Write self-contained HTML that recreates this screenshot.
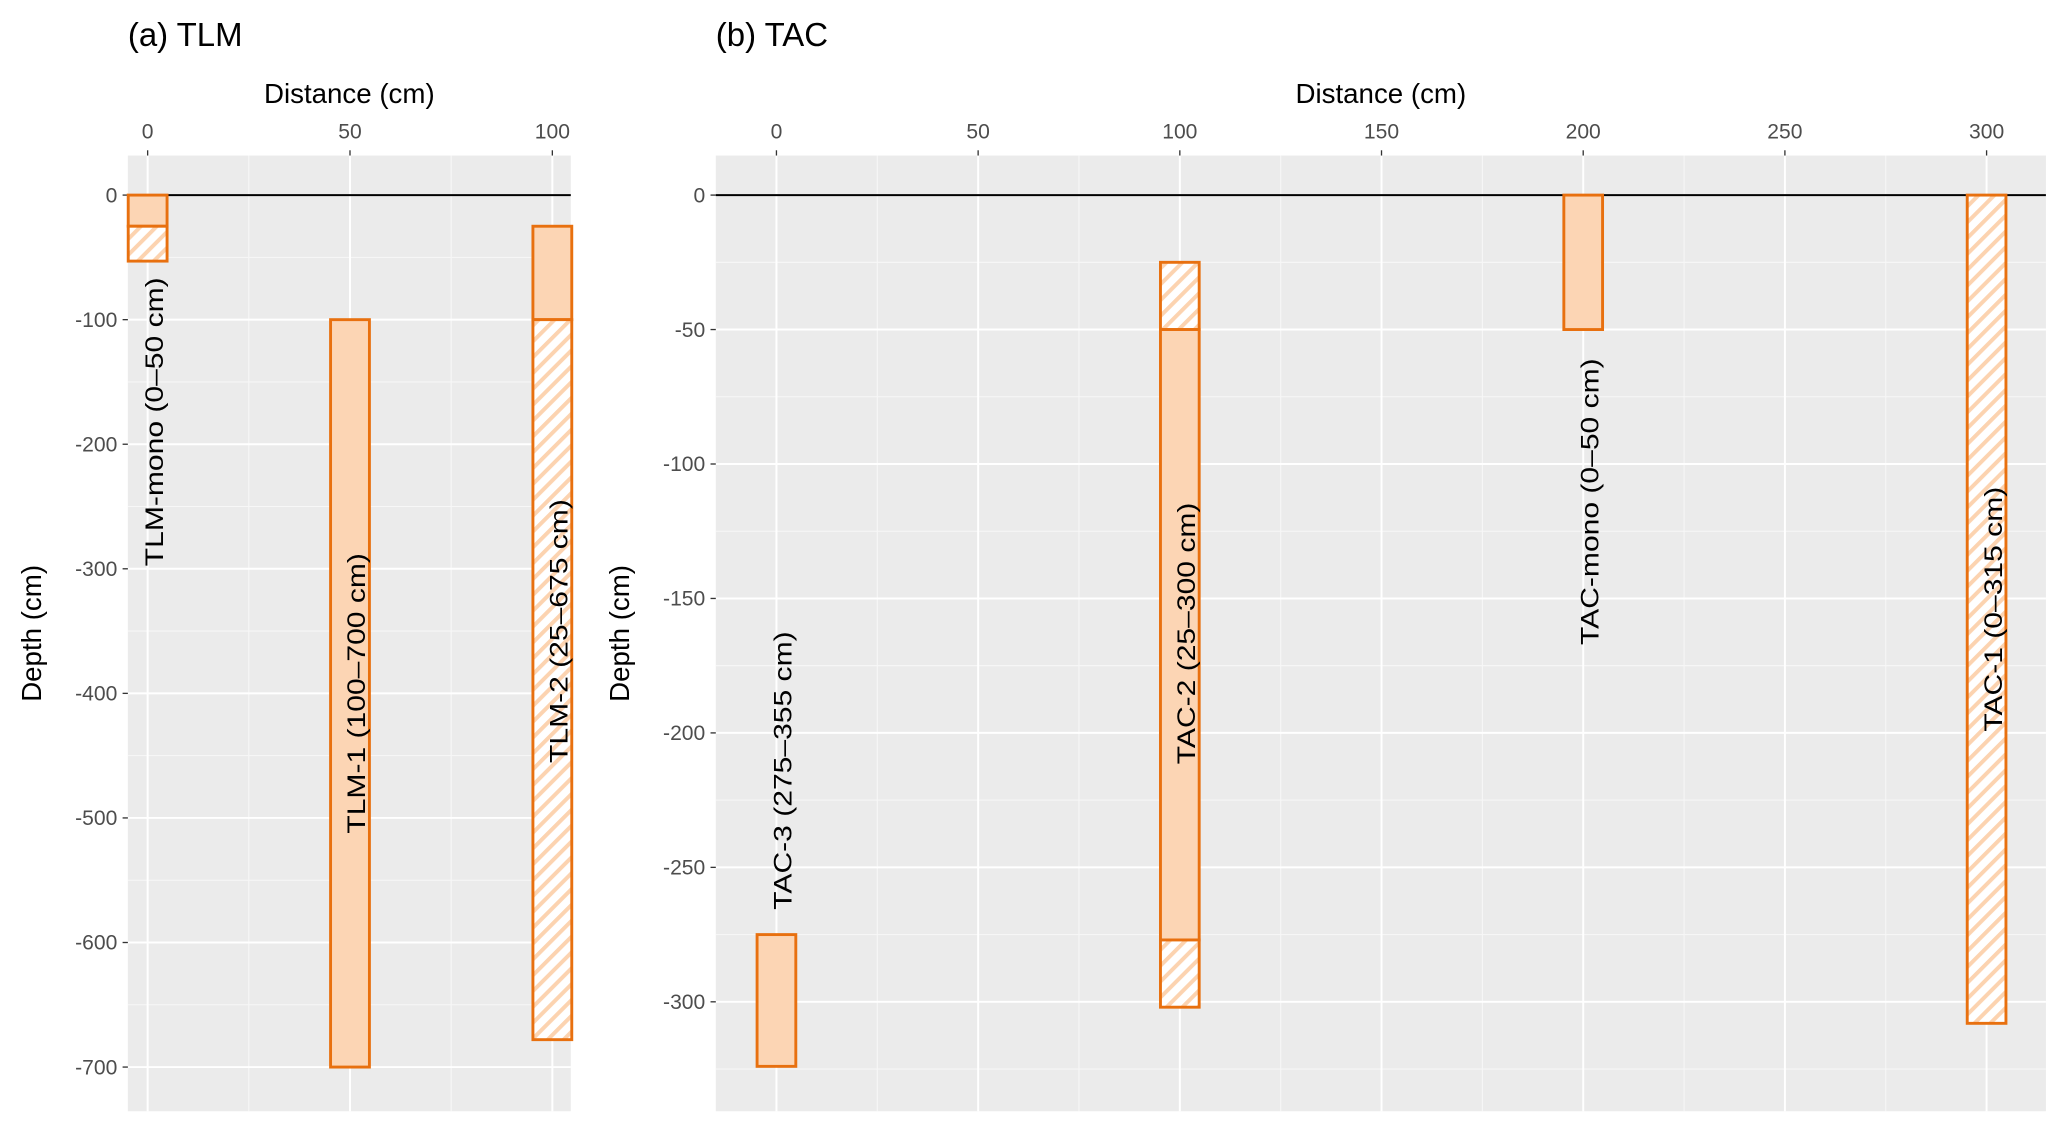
<!DOCTYPE html>
<html><head><meta charset="utf-8"><style>
html,body{margin:0;padding:0;background:#fff;}
svg{display:block;font-family:"Liberation Sans",Arial,sans-serif;}
</style></head><body>
<svg id="chart" width="2067" height="1131" viewBox="0 0 1568 858" preserveAspectRatio="none" xmlns="http://www.w3.org/2000/svg">
<defs>
<pattern id="hatch" patternUnits="userSpaceOnUse" width="8.5" height="8.5" patternTransform="rotate(-45)">
<rect width="8.5" height="8.5" fill="#ffffff"/>
<rect width="8.5" height="3" fill="#fcd3b0"/>
</pattern>
</defs>
<g id="root"></g>
</svg>
<script>
// Panel (a) TLM data
const tlmNames = ["TLM-mono (0–50 cm)", "TLM-1 (100–700 cm)", "TLM-2 (25–675 cm)"];
const tlmX = [0, 50, 100];
const tlmSegTop = [[0, -25], [-100], [-25, -100]];
const tlmSegBot = [[-25, -53], [-700], [-100, -678]];
const tlmSegHatch = [[false, true], [false], [false, true]];
const tlmLabelY = [-182, -400, -350];
const tlmXTicks = [0, 50, 100];
const tlmYTicks = [0, -100, -200, -300, -400, -500, -600, -700];

// Panel (b) TAC data
const tacNames = ["TAC-3 (275–355 cm)", "TAC-2 (25–300 cm)", "TAC-mono (0–50 cm)", "TAC-1 (0–315 cm)"];
const tacX = [0, 100, 200, 300];
const tacSegTop = [[-275], [-25, -50, -277], [0], [0]];
const tacSegBot = [[-324], [-50, -277, -302], [-50], [-308]];
const tacSegHatch = [[false], [true, false, true], [false], [true]];
const tacLabelY = [-214, -163, -114, -154];
const tacXTicks = [0, 50, 100, 150, 200, 250, 300];
const tacYTicks = [0, -50, -100, -150, -200, -250, -300];

const NS = "http://www.w3.org/2000/svg";
const root = document.getElementById("root");
function mk(tag, attrs, parent) {
  const e = document.createElementNS(NS, tag);
  for (const k in attrs) e.setAttribute(k, attrs[k]);
  (parent || root).appendChild(e);
  return e;
}

function panel(cfg) {
  const g = mk("g", {});
  
  
  const sx = v => cfg.px0 + (v - cfg.x0) * cfg.pxPerX;
  const sy = v => cfg.py0 - (v - 0) * cfg.pxPerY;
  const bg = mk("rect", {x: cfg.L, y: cfg.T, width: cfg.R - cfg.L, height: cfg.B - cfg.T, fill: "#ebebeb"}, g);
  
  
  const xs = cfg.xTicks;
  const xStep = xs[1] - xs[0];
  for (let v = xs[0] - xStep / 2; v <= xs[xs.length - 1] + xStep / 2; v += xStep) {
    const X = sx(v); if (X < cfg.L || X > cfg.R) continue;
    const l = mk("line", {x1: X, x2: X, y1: cfg.T, y2: cfg.B, stroke: "#f7f7f7", "stroke-width": 0.8}, g);
    
    
  }
  const ys = cfg.yTicks;
  const yStep = ys[0] - ys[1];
  for (let v = ys[0] + yStep / 2; v >= ys[ys.length - 1] - yStep; v -= yStep) {
    const Y = sy(v); if (Y < cfg.T || Y > cfg.B) continue;
    const l = mk("line", {x1: cfg.L, x2: cfg.R, y1: Y, y2: Y, stroke: "#f7f7f7", "stroke-width": 0.8}, g);
    
    
  }
  xs.forEach(v => {
    const X = sx(v);
    const l = mk("line", {x1: X, x2: X, y1: cfg.T, y2: cfg.B, stroke: "#fff", "stroke-width": 1.5}, g);
    
    
    const tk = mk("line", {x1: X, x2: X, y1: cfg.T - 4, y2: cfg.T, stroke: "#333", "stroke-width": 1}, g);
    
    
    const t = mk("text", {x: X, y: cfg.T - 13, "text-anchor": "middle", "font-size": 16, fill: "#4d4d4d"}, g);
    t.textContent = v;
    
    
  });
  ys.forEach(v => {
    const Y = sy(v);
    const l = mk("line", {x1: cfg.L, x2: cfg.R, y1: Y, y2: Y, stroke: "#fff", "stroke-width": 1.5}, g);
    
    
    const tk = mk("line", {x1: cfg.L - 4, x2: cfg.L, y1: Y, y2: Y, stroke: "#333", "stroke-width": 1}, g);
    
    
    const t = mk("text", {x: cfg.L - 8, y: Y + 5.5, "text-anchor": "end", "font-size": 16, fill: "#4d4d4d"}, g);
    t.textContent = v;
    
    
  });
  const z = mk("line", {x1: cfg.L, x2: cfg.R, y1: sy(0), y2: sy(0), stroke: "#000", "stroke-width": 1.5}, g);
  
  
  cfg.xs.forEach((xv, i) => {
    const bg2 = mk("g", {}, g);
    
    
    cfg.segTop[i].forEach((top, j) => {
      const bot = cfg.segBot[i][j];
      const x1 = sx(xv - 4.8), x2 = sx(xv + 4.8);
      const r = mk("rect", {x: x1, y: sy(top), width: x2 - x1, height: sy(bot) - sy(top),
        fill: cfg.segHatch[i][j] ? "url(#hatch)" : "#fcd5b4", stroke: "#e8700f", "stroke-width": 2.2}, bg2);
      
      
    });
    const lx = sx(xv) + 5, ly = sy(cfg.labelY[i]);
    const t = mk("text", {x: 0, y: 0, "text-anchor": "middle", "font-size": 19, fill: "#000",
      transform: "translate(" + lx + " " + ly + ") rotate(-90) scale(1.2 1)", "dominant-baseline": "central"}, bg2);
    t.textContent = cfg.names[i];
    
    
  });
  const xt = mk("text", {x: (cfg.L + cfg.R) / 2, y: 78, "text-anchor": "middle", "font-size": 21, fill: "#000"}, g);
  xt.textContent = "Distance (cm)";
  
  
  const yx = cfg.L - 66, yy = (cfg.T + cfg.B) / 2;
  const yt = mk("text", {x: yx, y: yy, "text-anchor": "middle", "font-size": 21, fill: "#000", transform: "rotate(-90 " + yx + " " + yy + ")"}, g);
  yt.textContent = "Depth (cm)";
  
  
  const tt = mk("text", {x: cfg.L, y: 35, "font-size": 25, fill: "#000"}, g);
  tt.textContent = cfg.title;
  
  
}

panel({id: "tlm", title: "(a) TLM", L: 97, R: 433, T: 118, B: 843,
  px0: 112, x0: 0, pxPerX: 3.07, py0: 148, pxPerY: 0.945,
  xTicks: tlmXTicks, yTicks: tlmYTicks, names: tlmNames, xs: tlmX,
  segTop: tlmSegTop, segBot: tlmSegBot, segHatch: tlmSegHatch, labelY: tlmLabelY});
panel({id: "tac", title: "(b) TAC", L: 543, R: 1552, T: 118, B: 843,
  px0: 589, x0: 0, pxPerX: 3.06, py0: 148, pxPerY: 2.04,
  xTicks: tacXTicks, yTicks: tacYTicks, names: tacNames, xs: tacX,
  segTop: tacSegTop, segBot: tacSegBot, segHatch: tacSegHatch, labelY: tacLabelY});
</script>
</body></html>
